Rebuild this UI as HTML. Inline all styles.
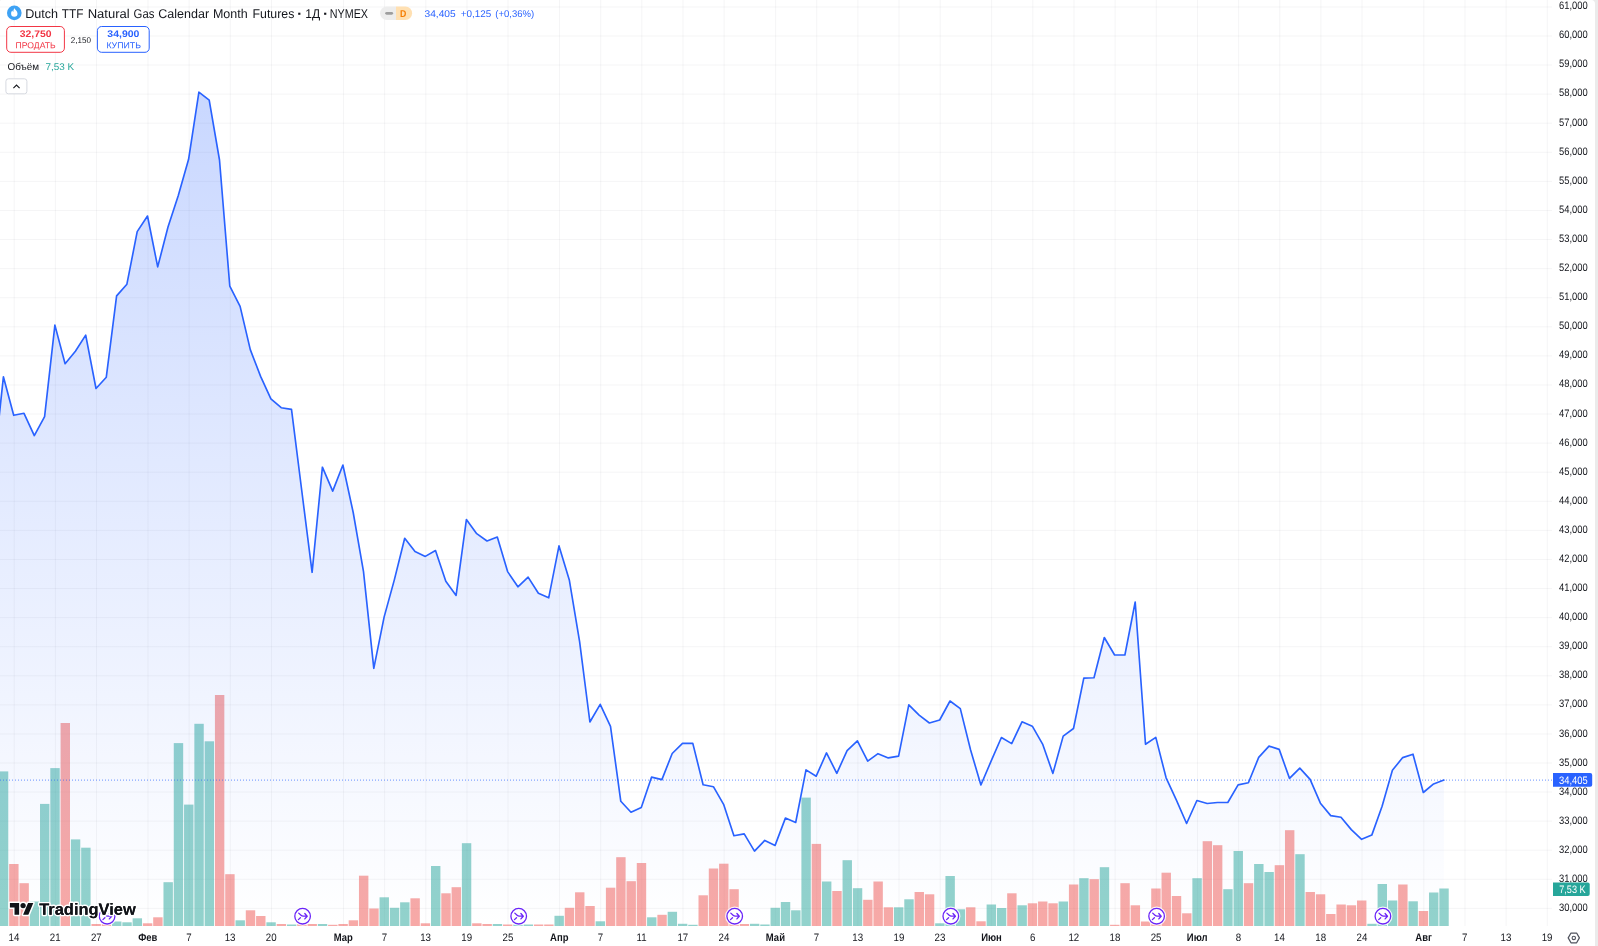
<!DOCTYPE html>
<html lang="ru"><head><meta charset="utf-8"><title>Dutch TTF Natural Gas Calendar Month Futures</title>
<style>html,body{margin:0;padding:0;background:#fff;}body{width:1598px;height:946px;overflow:hidden;font-family:"Liberation Sans",sans-serif;}svg{display:block;position:absolute;left:0;top:0;will-change:transform}text{font-family:"Liberation Sans",sans-serif}</style></head><body>
<svg width="1598" height="946" viewBox="0 0 1598 946">
<defs><linearGradient id="ag" gradientUnits="userSpaceOnUse" x1="0" y1="0" x2="0" y2="926"><stop offset="0" stop-color="#2962ff" stop-opacity="0.28"/><stop offset="1" stop-color="#2962ff" stop-opacity="0"/></linearGradient>
<clipPath id="pane"><rect x="0" y="0" width="1552" height="926"/></clipPath></defs>
<rect x="0" y="0" width="1598" height="946" fill="#ebebeb"/>
<path d="M1.5 0 H1591 a4 4 0 0 1 4 4 V946 H0 V1.5 a1.5 1.5 0 0 1 1.5 -1.5z" fill="#fff"/>
<g fill="#2a2e39" fill-opacity="0.047">
<rect x="0" y="907.90" width="1552" height="1"/>
<rect x="0" y="878.82" width="1552" height="1"/>
<rect x="0" y="849.74" width="1552" height="1"/>
<rect x="0" y="820.66" width="1552" height="1"/>
<rect x="0" y="791.58" width="1552" height="1"/>
<rect x="0" y="762.50" width="1552" height="1"/>
<rect x="0" y="733.42" width="1552" height="1"/>
<rect x="0" y="704.34" width="1552" height="1"/>
<rect x="0" y="675.26" width="1552" height="1"/>
<rect x="0" y="646.18" width="1552" height="1"/>
<rect x="0" y="617.10" width="1552" height="1"/>
<rect x="0" y="588.02" width="1552" height="1"/>
<rect x="0" y="558.94" width="1552" height="1"/>
<rect x="0" y="529.86" width="1552" height="1"/>
<rect x="0" y="500.78" width="1552" height="1"/>
<rect x="0" y="471.70" width="1552" height="1"/>
<rect x="0" y="442.62" width="1552" height="1"/>
<rect x="0" y="413.54" width="1552" height="1"/>
<rect x="0" y="384.46" width="1552" height="1"/>
<rect x="0" y="355.38" width="1552" height="1"/>
<rect x="0" y="326.30" width="1552" height="1"/>
<rect x="0" y="297.22" width="1552" height="1"/>
<rect x="0" y="268.14" width="1552" height="1"/>
<rect x="0" y="239.06" width="1552" height="1"/>
<rect x="0" y="209.98" width="1552" height="1"/>
<rect x="0" y="180.90" width="1552" height="1"/>
<rect x="0" y="151.82" width="1552" height="1"/>
<rect x="0" y="122.74" width="1552" height="1"/>
<rect x="0" y="93.66" width="1552" height="1"/>
<rect x="0" y="64.58" width="1552" height="1"/>
<rect x="0" y="35.50" width="1552" height="1"/>
<rect x="0" y="6.42" width="1552" height="1"/>
<rect x="13.70" y="0" width="1" height="926"/>
<rect x="54.86" y="0" width="1" height="926"/>
<rect x="96.01" y="0" width="1" height="926"/>
<rect x="147.46" y="0" width="1" height="926"/>
<rect x="188.61" y="0" width="1" height="926"/>
<rect x="229.77" y="0" width="1" height="926"/>
<rect x="270.92" y="0" width="1" height="926"/>
<rect x="342.95" y="0" width="1" height="926"/>
<rect x="384.10" y="0" width="1" height="926"/>
<rect x="425.26" y="0" width="1" height="926"/>
<rect x="466.42" y="0" width="1" height="926"/>
<rect x="507.57" y="0" width="1" height="926"/>
<rect x="559.02" y="0" width="1" height="926"/>
<rect x="600.17" y="0" width="1" height="926"/>
<rect x="641.33" y="0" width="1" height="926"/>
<rect x="682.49" y="0" width="1" height="926"/>
<rect x="723.64" y="0" width="1" height="926"/>
<rect x="775.09" y="0" width="1" height="926"/>
<rect x="816.24" y="0" width="1" height="926"/>
<rect x="857.40" y="0" width="1" height="926"/>
<rect x="898.55" y="0" width="1" height="926"/>
<rect x="939.71" y="0" width="1" height="926"/>
<rect x="991.15" y="0" width="1" height="926"/>
<rect x="1032.31" y="0" width="1" height="926"/>
<rect x="1073.47" y="0" width="1" height="926"/>
<rect x="1114.62" y="0" width="1" height="926"/>
<rect x="1155.78" y="0" width="1" height="926"/>
<rect x="1196.93" y="0" width="1" height="926"/>
<rect x="1238.09" y="0" width="1" height="926"/>
<rect x="1279.25" y="0" width="1" height="926"/>
<rect x="1320.40" y="0" width="1" height="926"/>
<rect x="1361.56" y="0" width="1" height="926"/>
<rect x="1423.29" y="0" width="1" height="926"/>
<rect x="1464.45" y="0" width="1" height="926"/>
<rect x="1505.61" y="0" width="1" height="926"/>
<rect x="1546.76" y="0" width="1" height="926"/>
</g>
<g clip-path="url(#pane)">
<rect x="-1.14" y="771.4" width="9.4" height="154.6" fill="#26a69a" fill-opacity="0.5"/>
<rect x="9.15" y="864.0" width="9.4" height="62.0" fill="#ef5350" fill-opacity="0.5"/>
<rect x="19.44" y="883.2" width="9.4" height="42.8" fill="#ef5350" fill-opacity="0.5"/>
<rect x="29.73" y="901.5" width="9.4" height="24.5" fill="#26a69a" fill-opacity="0.5"/>
<rect x="40.02" y="803.9" width="9.4" height="122.1" fill="#26a69a" fill-opacity="0.5"/>
<rect x="50.31" y="768.1" width="9.4" height="157.9" fill="#26a69a" fill-opacity="0.5"/>
<rect x="60.59" y="723.0" width="9.4" height="203.0" fill="#ef5350" fill-opacity="0.5"/>
<rect x="70.88" y="839.4" width="9.4" height="86.6" fill="#26a69a" fill-opacity="0.5"/>
<rect x="81.17" y="847.7" width="9.4" height="78.3" fill="#26a69a" fill-opacity="0.5"/>
<rect x="91.46" y="924.0" width="9.4" height="2.0" fill="#ef5350" fill-opacity="0.5"/>
<rect x="101.75" y="924.0" width="9.4" height="2.0" fill="#ef5350" fill-opacity="0.5"/>
<rect x="112.04" y="921.5" width="9.4" height="4.5" fill="#26a69a" fill-opacity="0.5"/>
<rect x="122.33" y="922.3" width="9.4" height="3.7" fill="#26a69a" fill-opacity="0.5"/>
<rect x="132.62" y="918.3" width="9.4" height="7.7" fill="#26a69a" fill-opacity="0.5"/>
<rect x="142.91" y="923.3" width="9.4" height="2.7" fill="#ef5350" fill-opacity="0.5"/>
<rect x="153.20" y="917.3" width="9.4" height="8.7" fill="#ef5350" fill-opacity="0.5"/>
<rect x="163.48" y="882.2" width="9.4" height="43.8" fill="#26a69a" fill-opacity="0.5"/>
<rect x="173.77" y="743.1" width="9.4" height="182.9" fill="#26a69a" fill-opacity="0.5"/>
<rect x="184.06" y="804.6" width="9.4" height="121.4" fill="#26a69a" fill-opacity="0.5"/>
<rect x="194.35" y="723.8" width="9.4" height="202.2" fill="#26a69a" fill-opacity="0.5"/>
<rect x="204.64" y="741.3" width="9.4" height="184.7" fill="#26a69a" fill-opacity="0.5"/>
<rect x="214.93" y="695.0" width="9.4" height="231.0" fill="#ef5350" fill-opacity="0.5"/>
<rect x="225.22" y="874.2" width="9.4" height="51.8" fill="#ef5350" fill-opacity="0.5"/>
<rect x="235.51" y="920.3" width="9.4" height="5.7" fill="#26a69a" fill-opacity="0.5"/>
<rect x="245.80" y="910.3" width="9.4" height="15.7" fill="#ef5350" fill-opacity="0.5"/>
<rect x="256.09" y="916.0" width="9.4" height="10.0" fill="#ef5350" fill-opacity="0.5"/>
<rect x="266.37" y="922.3" width="9.4" height="3.7" fill="#26a69a" fill-opacity="0.5"/>
<rect x="276.66" y="924.0" width="9.4" height="2.0" fill="#ef5350" fill-opacity="0.5"/>
<rect x="286.95" y="924.5" width="9.4" height="1.5" fill="#26a69a" fill-opacity="0.5"/>
<rect x="297.24" y="924.0" width="9.4" height="2.0" fill="#ef5350" fill-opacity="0.5"/>
<rect x="307.53" y="924.0" width="9.4" height="2.0" fill="#ef5350" fill-opacity="0.5"/>
<rect x="317.82" y="924.0" width="9.4" height="2.0" fill="#26a69a" fill-opacity="0.5"/>
<rect x="328.11" y="924.8" width="9.4" height="1.2" fill="#ef5350" fill-opacity="0.5"/>
<rect x="338.40" y="924.0" width="9.4" height="2.0" fill="#ef5350" fill-opacity="0.5"/>
<rect x="348.69" y="920.3" width="9.4" height="5.7" fill="#ef5350" fill-opacity="0.5"/>
<rect x="358.98" y="875.7" width="9.4" height="50.3" fill="#ef5350" fill-opacity="0.5"/>
<rect x="369.26" y="908.5" width="9.4" height="17.5" fill="#ef5350" fill-opacity="0.5"/>
<rect x="379.55" y="897.3" width="9.4" height="28.7" fill="#26a69a" fill-opacity="0.5"/>
<rect x="389.84" y="907.8" width="9.4" height="18.2" fill="#26a69a" fill-opacity="0.5"/>
<rect x="400.13" y="902.3" width="9.4" height="23.7" fill="#26a69a" fill-opacity="0.5"/>
<rect x="410.42" y="898.3" width="9.4" height="27.7" fill="#ef5350" fill-opacity="0.5"/>
<rect x="420.71" y="923.3" width="9.4" height="2.7" fill="#ef5350" fill-opacity="0.5"/>
<rect x="431.00" y="866.0" width="9.4" height="60.0" fill="#26a69a" fill-opacity="0.5"/>
<rect x="441.29" y="893.3" width="9.4" height="32.7" fill="#ef5350" fill-opacity="0.5"/>
<rect x="451.58" y="887.2" width="9.4" height="38.8" fill="#ef5350" fill-opacity="0.5"/>
<rect x="461.87" y="843.2" width="9.4" height="82.8" fill="#26a69a" fill-opacity="0.5"/>
<rect x="472.15" y="923.3" width="9.4" height="2.7" fill="#ef5350" fill-opacity="0.5"/>
<rect x="482.44" y="924.0" width="9.4" height="2.0" fill="#ef5350" fill-opacity="0.5"/>
<rect x="492.73" y="924.0" width="9.4" height="2.0" fill="#26a69a" fill-opacity="0.5"/>
<rect x="503.02" y="924.5" width="9.4" height="1.5" fill="#ef5350" fill-opacity="0.5"/>
<rect x="513.31" y="924.5" width="9.4" height="1.5" fill="#26a69a" fill-opacity="0.5"/>
<rect x="523.60" y="924.5" width="9.4" height="1.5" fill="#26a69a" fill-opacity="0.5"/>
<rect x="533.89" y="924.5" width="9.4" height="1.5" fill="#ef5350" fill-opacity="0.5"/>
<rect x="544.18" y="924.5" width="9.4" height="1.5" fill="#ef5350" fill-opacity="0.5"/>
<rect x="554.47" y="915.8" width="9.4" height="10.2" fill="#26a69a" fill-opacity="0.5"/>
<rect x="564.76" y="907.8" width="9.4" height="18.2" fill="#ef5350" fill-opacity="0.5"/>
<rect x="575.05" y="892.3" width="9.4" height="33.7" fill="#ef5350" fill-opacity="0.5"/>
<rect x="585.33" y="906.0" width="9.4" height="20.0" fill="#ef5350" fill-opacity="0.5"/>
<rect x="595.62" y="921.3" width="9.4" height="4.7" fill="#26a69a" fill-opacity="0.5"/>
<rect x="605.91" y="887.7" width="9.4" height="38.3" fill="#ef5350" fill-opacity="0.5"/>
<rect x="616.20" y="857.2" width="9.4" height="68.8" fill="#ef5350" fill-opacity="0.5"/>
<rect x="626.49" y="881.2" width="9.4" height="44.8" fill="#ef5350" fill-opacity="0.5"/>
<rect x="636.78" y="863.0" width="9.4" height="63.0" fill="#ef5350" fill-opacity="0.5"/>
<rect x="647.07" y="917.3" width="9.4" height="8.7" fill="#26a69a" fill-opacity="0.5"/>
<rect x="657.36" y="914.8" width="9.4" height="11.2" fill="#ef5350" fill-opacity="0.5"/>
<rect x="667.65" y="911.8" width="9.4" height="14.2" fill="#26a69a" fill-opacity="0.5"/>
<rect x="677.94" y="923.8" width="9.4" height="2.2" fill="#26a69a" fill-opacity="0.5"/>
<rect x="688.22" y="924.8" width="9.4" height="1.2" fill="#26a69a" fill-opacity="0.5"/>
<rect x="698.51" y="895.3" width="9.4" height="30.7" fill="#ef5350" fill-opacity="0.5"/>
<rect x="708.80" y="868.5" width="9.4" height="57.5" fill="#ef5350" fill-opacity="0.5"/>
<rect x="719.09" y="863.7" width="9.4" height="62.3" fill="#ef5350" fill-opacity="0.5"/>
<rect x="729.38" y="889.2" width="9.4" height="36.8" fill="#ef5350" fill-opacity="0.5"/>
<rect x="739.67" y="924.0" width="9.4" height="2.0" fill="#ef5350" fill-opacity="0.5"/>
<rect x="749.96" y="923.8" width="9.4" height="2.2" fill="#26a69a" fill-opacity="0.5"/>
<rect x="760.25" y="924.5" width="9.4" height="1.5" fill="#26a69a" fill-opacity="0.5"/>
<rect x="770.54" y="907.8" width="9.4" height="18.2" fill="#26a69a" fill-opacity="0.5"/>
<rect x="780.83" y="902.0" width="9.4" height="24.0" fill="#26a69a" fill-opacity="0.5"/>
<rect x="791.11" y="910.3" width="9.4" height="15.7" fill="#26a69a" fill-opacity="0.5"/>
<rect x="801.40" y="797.6" width="9.4" height="128.4" fill="#26a69a" fill-opacity="0.5"/>
<rect x="811.69" y="843.9" width="9.4" height="82.1" fill="#ef5350" fill-opacity="0.5"/>
<rect x="821.98" y="881.5" width="9.4" height="44.5" fill="#26a69a" fill-opacity="0.5"/>
<rect x="832.27" y="891.0" width="9.4" height="35.0" fill="#ef5350" fill-opacity="0.5"/>
<rect x="842.56" y="860.2" width="9.4" height="65.8" fill="#26a69a" fill-opacity="0.5"/>
<rect x="852.85" y="888.2" width="9.4" height="37.8" fill="#26a69a" fill-opacity="0.5"/>
<rect x="863.14" y="899.8" width="9.4" height="26.2" fill="#ef5350" fill-opacity="0.5"/>
<rect x="873.43" y="881.5" width="9.4" height="44.5" fill="#ef5350" fill-opacity="0.5"/>
<rect x="883.72" y="907.3" width="9.4" height="18.7" fill="#ef5350" fill-opacity="0.5"/>
<rect x="894.00" y="907.3" width="9.4" height="18.7" fill="#26a69a" fill-opacity="0.5"/>
<rect x="904.29" y="899.3" width="9.4" height="26.7" fill="#26a69a" fill-opacity="0.5"/>
<rect x="914.58" y="892.0" width="9.4" height="34.0" fill="#ef5350" fill-opacity="0.5"/>
<rect x="924.87" y="894.3" width="9.4" height="31.7" fill="#ef5350" fill-opacity="0.5"/>
<rect x="935.16" y="923.3" width="9.4" height="2.7" fill="#26a69a" fill-opacity="0.5"/>
<rect x="945.45" y="876.0" width="9.4" height="50.0" fill="#26a69a" fill-opacity="0.5"/>
<rect x="955.74" y="909.3" width="9.4" height="16.7" fill="#26a69a" fill-opacity="0.5"/>
<rect x="966.03" y="907.3" width="9.4" height="18.7" fill="#ef5350" fill-opacity="0.5"/>
<rect x="976.32" y="921.3" width="9.4" height="4.7" fill="#ef5350" fill-opacity="0.5"/>
<rect x="986.61" y="904.5" width="9.4" height="21.5" fill="#26a69a" fill-opacity="0.5"/>
<rect x="996.89" y="908.0" width="9.4" height="18.0" fill="#26a69a" fill-opacity="0.5"/>
<rect x="1007.18" y="893.3" width="9.4" height="32.7" fill="#ef5350" fill-opacity="0.5"/>
<rect x="1017.47" y="905.3" width="9.4" height="20.7" fill="#26a69a" fill-opacity="0.5"/>
<rect x="1027.76" y="903.3" width="9.4" height="22.7" fill="#ef5350" fill-opacity="0.5"/>
<rect x="1038.05" y="901.5" width="9.4" height="24.5" fill="#ef5350" fill-opacity="0.5"/>
<rect x="1048.34" y="903.3" width="9.4" height="22.7" fill="#ef5350" fill-opacity="0.5"/>
<rect x="1058.63" y="901.5" width="9.4" height="24.5" fill="#26a69a" fill-opacity="0.5"/>
<rect x="1068.92" y="884.5" width="9.4" height="41.5" fill="#ef5350" fill-opacity="0.5"/>
<rect x="1079.21" y="878.2" width="9.4" height="47.8" fill="#26a69a" fill-opacity="0.5"/>
<rect x="1089.50" y="879.2" width="9.4" height="46.8" fill="#ef5350" fill-opacity="0.5"/>
<rect x="1099.78" y="867.2" width="9.4" height="58.8" fill="#26a69a" fill-opacity="0.5"/>
<rect x="1110.07" y="924.8" width="9.4" height="1.2" fill="#ef5350" fill-opacity="0.5"/>
<rect x="1120.36" y="883.2" width="9.4" height="42.8" fill="#ef5350" fill-opacity="0.5"/>
<rect x="1130.65" y="905.3" width="9.4" height="20.7" fill="#ef5350" fill-opacity="0.5"/>
<rect x="1140.94" y="921.5" width="9.4" height="4.5" fill="#ef5350" fill-opacity="0.5"/>
<rect x="1151.23" y="888.5" width="9.4" height="37.5" fill="#ef5350" fill-opacity="0.5"/>
<rect x="1161.52" y="872.7" width="9.4" height="53.3" fill="#ef5350" fill-opacity="0.5"/>
<rect x="1171.81" y="896.0" width="9.4" height="30.0" fill="#ef5350" fill-opacity="0.5"/>
<rect x="1182.10" y="913.3" width="9.4" height="12.7" fill="#ef5350" fill-opacity="0.5"/>
<rect x="1192.38" y="878.2" width="9.4" height="47.8" fill="#26a69a" fill-opacity="0.5"/>
<rect x="1202.67" y="841.2" width="9.4" height="84.8" fill="#ef5350" fill-opacity="0.5"/>
<rect x="1212.96" y="845.2" width="9.4" height="80.8" fill="#ef5350" fill-opacity="0.5"/>
<rect x="1223.25" y="889.2" width="9.4" height="36.8" fill="#26a69a" fill-opacity="0.5"/>
<rect x="1233.54" y="851.0" width="9.4" height="75.0" fill="#26a69a" fill-opacity="0.5"/>
<rect x="1243.83" y="883.2" width="9.4" height="42.8" fill="#ef5350" fill-opacity="0.5"/>
<rect x="1254.12" y="864.0" width="9.4" height="62.0" fill="#26a69a" fill-opacity="0.5"/>
<rect x="1264.41" y="872.0" width="9.4" height="54.0" fill="#26a69a" fill-opacity="0.5"/>
<rect x="1274.70" y="865.2" width="9.4" height="60.8" fill="#ef5350" fill-opacity="0.5"/>
<rect x="1284.99" y="830.2" width="9.4" height="95.8" fill="#ef5350" fill-opacity="0.5"/>
<rect x="1295.28" y="854.2" width="9.4" height="71.8" fill="#26a69a" fill-opacity="0.5"/>
<rect x="1305.56" y="892.0" width="9.4" height="34.0" fill="#ef5350" fill-opacity="0.5"/>
<rect x="1315.85" y="894.3" width="9.4" height="31.7" fill="#ef5350" fill-opacity="0.5"/>
<rect x="1326.14" y="914.0" width="9.4" height="12.0" fill="#ef5350" fill-opacity="0.5"/>
<rect x="1336.43" y="904.5" width="9.4" height="21.5" fill="#ef5350" fill-opacity="0.5"/>
<rect x="1346.72" y="905.3" width="9.4" height="20.7" fill="#ef5350" fill-opacity="0.5"/>
<rect x="1357.01" y="900.5" width="9.4" height="25.5" fill="#ef5350" fill-opacity="0.5"/>
<rect x="1367.30" y="923.8" width="9.4" height="2.2" fill="#26a69a" fill-opacity="0.5"/>
<rect x="1377.59" y="884.0" width="9.4" height="42.0" fill="#26a69a" fill-opacity="0.5"/>
<rect x="1387.88" y="900.5" width="9.4" height="25.5" fill="#26a69a" fill-opacity="0.5"/>
<rect x="1398.16" y="884.5" width="9.4" height="41.5" fill="#ef5350" fill-opacity="0.5"/>
<rect x="1408.45" y="901.3" width="9.4" height="24.7" fill="#26a69a" fill-opacity="0.5"/>
<rect x="1418.74" y="911.0" width="9.4" height="15.0" fill="#ef5350" fill-opacity="0.5"/>
<rect x="1429.03" y="892.5" width="9.4" height="33.5" fill="#26a69a" fill-opacity="0.5"/>
<rect x="1439.32" y="888.5" width="9.4" height="37.5" fill="#26a69a" fill-opacity="0.5"/>
<polygon points="-7.3,477.0 3.4,376.8 13.7,415.3 24.0,413.3 34.3,435.6 44.6,416.7 54.9,325.1 65.1,363.7 75.4,351.3 85.7,335.1 96.0,388.5 106.3,377.2 116.6,295.9 126.9,284.2 137.2,231.6 147.5,216.0 157.7,266.9 168.0,227.0 178.3,195.5 188.6,159.3 198.9,92.2 209.2,100.1 219.5,160.0 229.8,286.2 240.1,306.4 250.3,349.6 260.6,376.4 270.9,398.8 281.2,407.7 291.5,409.4 301.8,491.0 312.1,572.3 322.4,467.2 332.7,491.1 342.9,465.0 353.2,512.5 363.5,571.6 373.8,668.3 384.1,617.1 394.4,579.6 404.7,538.3 415.0,551.6 425.3,556.4 435.5,550.5 445.8,581.2 456.1,595.4 466.4,519.6 476.7,533.7 487.0,541.0 497.3,537.0 507.6,571.6 517.9,586.8 528.1,577.1 538.4,593.2 548.7,597.8 559.0,545.9 569.3,579.9 579.6,641.7 589.9,722.0 600.2,704.3 610.5,726.4 620.8,801.3 631.0,812.2 641.3,807.4 651.6,777.1 661.9,779.6 672.2,753.5 682.5,743.4 692.8,743.4 703.1,784.7 713.4,786.7 723.6,804.3 733.9,835.7 744.2,833.9 754.5,851.1 764.8,840.4 775.1,845.4 785.4,818.1 795.7,822.5 806.0,769.9 816.2,776.2 826.5,752.9 836.8,773.3 847.1,750.6 857.4,740.9 867.7,761.2 878.0,753.7 888.3,757.9 898.6,756.1 908.8,704.9 919.1,715.2 929.4,723.0 939.7,720.0 950.0,701.0 960.3,708.6 970.6,750.0 980.9,785.0 991.2,760.9 1001.4,737.5 1011.7,743.6 1022.0,721.8 1032.3,726.2 1042.6,744.1 1052.9,773.4 1063.2,736.1 1073.5,728.5 1083.8,678.1 1094.0,677.8 1104.3,637.5 1114.6,655.0 1124.9,655.0 1135.2,602.0 1145.5,744.3 1155.8,737.4 1166.1,777.8 1176.4,800.2 1186.6,823.5 1196.9,800.5 1207.2,803.5 1217.5,802.5 1227.8,802.5 1238.1,784.9 1248.4,782.8 1258.7,757.4 1269.0,746.1 1279.2,749.4 1289.5,778.4 1299.8,768.1 1310.1,779.4 1320.4,803.2 1330.7,815.6 1341.0,817.2 1351.3,829.6 1361.6,839.3 1371.8,835.1 1382.1,806.2 1392.4,770.2 1402.7,757.6 1413.0,754.2 1423.3,792.5 1433.6,783.9 1443.9,780.1 1443.9,926 -8,926" fill="url(#ag)"/>
<polyline points="-7.3,477.0 3.4,376.8 13.7,415.3 24.0,413.3 34.3,435.6 44.6,416.7 54.9,325.1 65.1,363.7 75.4,351.3 85.7,335.1 96.0,388.5 106.3,377.2 116.6,295.9 126.9,284.2 137.2,231.6 147.5,216.0 157.7,266.9 168.0,227.0 178.3,195.5 188.6,159.3 198.9,92.2 209.2,100.1 219.5,160.0 229.8,286.2 240.1,306.4 250.3,349.6 260.6,376.4 270.9,398.8 281.2,407.7 291.5,409.4 301.8,491.0 312.1,572.3 322.4,467.2 332.7,491.1 342.9,465.0 353.2,512.5 363.5,571.6 373.8,668.3 384.1,617.1 394.4,579.6 404.7,538.3 415.0,551.6 425.3,556.4 435.5,550.5 445.8,581.2 456.1,595.4 466.4,519.6 476.7,533.7 487.0,541.0 497.3,537.0 507.6,571.6 517.9,586.8 528.1,577.1 538.4,593.2 548.7,597.8 559.0,545.9 569.3,579.9 579.6,641.7 589.9,722.0 600.2,704.3 610.5,726.4 620.8,801.3 631.0,812.2 641.3,807.4 651.6,777.1 661.9,779.6 672.2,753.5 682.5,743.4 692.8,743.4 703.1,784.7 713.4,786.7 723.6,804.3 733.9,835.7 744.2,833.9 754.5,851.1 764.8,840.4 775.1,845.4 785.4,818.1 795.7,822.5 806.0,769.9 816.2,776.2 826.5,752.9 836.8,773.3 847.1,750.6 857.4,740.9 867.7,761.2 878.0,753.7 888.3,757.9 898.6,756.1 908.8,704.9 919.1,715.2 929.4,723.0 939.7,720.0 950.0,701.0 960.3,708.6 970.6,750.0 980.9,785.0 991.2,760.9 1001.4,737.5 1011.7,743.6 1022.0,721.8 1032.3,726.2 1042.6,744.1 1052.9,773.4 1063.2,736.1 1073.5,728.5 1083.8,678.1 1094.0,677.8 1104.3,637.5 1114.6,655.0 1124.9,655.0 1135.2,602.0 1145.5,744.3 1155.8,737.4 1166.1,777.8 1176.4,800.2 1186.6,823.5 1196.9,800.5 1207.2,803.5 1217.5,802.5 1227.8,802.5 1238.1,784.9 1248.4,782.8 1258.7,757.4 1269.0,746.1 1279.2,749.4 1289.5,778.4 1299.8,768.1 1310.1,779.4 1320.4,803.2 1330.7,815.6 1341.0,817.2 1351.3,829.6 1361.6,839.3 1371.8,835.1 1382.1,806.2 1392.4,770.2 1402.7,757.6 1413.0,754.2 1423.3,792.5 1433.6,783.9 1443.9,780.1" fill="none" stroke="#2962ff" stroke-width="1.65" stroke-linejoin="round" stroke-linecap="round"/>
</g>
<line x1="0" y1="780.1" x2="1552" y2="780.1" stroke="#2962ff" stroke-width="1" stroke-dasharray="1 2" stroke-opacity="0.7"/>
<g transform="translate(107.1,916.2)"><circle r="9.6" fill="#fff" fill-opacity="0.85"/><circle r="7.8" fill="#fff" stroke="#6a24f8" stroke-width="1.3"/><path d="M-3.9 -3.1 L-1.6 -0.9 Q-0.7 0 0.6 0 L4.2 0 M2.2 -2.7 L4.6 0 L2.2 2.7" fill="none" stroke="#6a24f8" stroke-width="1.3" stroke-linecap="round" stroke-linejoin="round"/><path d="M-4.2 3.4 L-2.2 1.5" fill="none" stroke="#6a24f8" stroke-width="1.3" stroke-linecap="round"/></g>
<g transform="translate(302.6,916.2)"><circle r="9.6" fill="#fff" fill-opacity="0.85"/><circle r="7.8" fill="#fff" stroke="#6a24f8" stroke-width="1.3"/><path d="M-3.9 -3.1 L-1.6 -0.9 Q-0.7 0 0.6 0 L4.2 0 M2.2 -2.7 L4.6 0 L2.2 2.7" fill="none" stroke="#6a24f8" stroke-width="1.3" stroke-linecap="round" stroke-linejoin="round"/><path d="M-4.2 3.4 L-2.2 1.5" fill="none" stroke="#6a24f8" stroke-width="1.3" stroke-linecap="round"/></g>
<g transform="translate(518.7,916.2)"><circle r="9.6" fill="#fff" fill-opacity="0.85"/><circle r="7.8" fill="#fff" stroke="#6a24f8" stroke-width="1.3"/><path d="M-3.9 -3.1 L-1.6 -0.9 Q-0.7 0 0.6 0 L4.2 0 M2.2 -2.7 L4.6 0 L2.2 2.7" fill="none" stroke="#6a24f8" stroke-width="1.3" stroke-linecap="round" stroke-linejoin="round"/><path d="M-4.2 3.4 L-2.2 1.5" fill="none" stroke="#6a24f8" stroke-width="1.3" stroke-linecap="round"/></g>
<g transform="translate(734.7,916.2)"><circle r="9.6" fill="#fff" fill-opacity="0.85"/><circle r="7.8" fill="#fff" stroke="#6a24f8" stroke-width="1.3"/><path d="M-3.9 -3.1 L-1.6 -0.9 Q-0.7 0 0.6 0 L4.2 0 M2.2 -2.7 L4.6 0 L2.2 2.7" fill="none" stroke="#6a24f8" stroke-width="1.3" stroke-linecap="round" stroke-linejoin="round"/><path d="M-4.2 3.4 L-2.2 1.5" fill="none" stroke="#6a24f8" stroke-width="1.3" stroke-linecap="round"/></g>
<g transform="translate(950.8,916.2)"><circle r="9.6" fill="#fff" fill-opacity="0.85"/><circle r="7.8" fill="#fff" stroke="#6a24f8" stroke-width="1.3"/><path d="M-3.9 -3.1 L-1.6 -0.9 Q-0.7 0 0.6 0 L4.2 0 M2.2 -2.7 L4.6 0 L2.2 2.7" fill="none" stroke="#6a24f8" stroke-width="1.3" stroke-linecap="round" stroke-linejoin="round"/><path d="M-4.2 3.4 L-2.2 1.5" fill="none" stroke="#6a24f8" stroke-width="1.3" stroke-linecap="round"/></g>
<g transform="translate(1156.6,916.2)"><circle r="9.6" fill="#fff" fill-opacity="0.85"/><circle r="7.8" fill="#fff" stroke="#6a24f8" stroke-width="1.3"/><path d="M-3.9 -3.1 L-1.6 -0.9 Q-0.7 0 0.6 0 L4.2 0 M2.2 -2.7 L4.6 0 L2.2 2.7" fill="none" stroke="#6a24f8" stroke-width="1.3" stroke-linecap="round" stroke-linejoin="round"/><path d="M-4.2 3.4 L-2.2 1.5" fill="none" stroke="#6a24f8" stroke-width="1.3" stroke-linecap="round"/></g>
<g transform="translate(1382.9,916.2)"><circle r="9.6" fill="#fff" fill-opacity="0.85"/><circle r="7.8" fill="#fff" stroke="#6a24f8" stroke-width="1.3"/><path d="M-3.9 -3.1 L-1.6 -0.9 Q-0.7 0 0.6 0 L4.2 0 M2.2 -2.7 L4.6 0 L2.2 2.7" fill="none" stroke="#6a24f8" stroke-width="1.3" stroke-linecap="round" stroke-linejoin="round"/><path d="M-4.2 3.4 L-2.2 1.5" fill="none" stroke="#6a24f8" stroke-width="1.3" stroke-linecap="round"/></g>
<g transform="translate(9.9,900.35) scale(0.659)" stroke="#fff" stroke-width="4.5" stroke-linejoin="round" fill="#fff"><path d="M14 22H7V11H0V4h14v18zM28 22h-8l7.5-18h8L28 22z"/><circle cx="20" cy="8" r="4"/></g>
<g transform="translate(9.9,900.35) scale(0.659)" fill="#111318"><path d="M14 22H7V11H0V4h14v18zM28 22h-8l7.5-18h8L28 22z"/><circle cx="20" cy="8" r="4"/></g>
<text transform="translate(39.20,914.70) rotate(0.03)" font-size="16.3" fill="#111318" font-weight="700" textLength="96.5" lengthAdjust="spacingAndGlyphs" stroke="#fff" stroke-width="3" stroke-linejoin="round" paint-order="stroke">TradingView</text>
<text transform="translate(39.20,914.70) rotate(0.03)" font-size="16.3" fill="#111318" font-weight="700" textLength="96.5" lengthAdjust="spacingAndGlyphs">TradingView</text>
<text transform="translate(1587.70,911.15) rotate(0.03)" font-size="10.8" fill="#14161c" text-anchor="end" textLength="28.7" lengthAdjust="spacingAndGlyphs">30,000</text>
<text transform="translate(1587.70,882.05) rotate(0.03)" font-size="10.8" fill="#14161c" text-anchor="end" textLength="28.7" lengthAdjust="spacingAndGlyphs">31,000</text>
<text transform="translate(1587.70,852.96) rotate(0.03)" font-size="10.8" fill="#14161c" text-anchor="end" textLength="28.7" lengthAdjust="spacingAndGlyphs">32,000</text>
<text transform="translate(1587.70,823.87) rotate(0.03)" font-size="10.8" fill="#14161c" text-anchor="end" textLength="28.7" lengthAdjust="spacingAndGlyphs">33,000</text>
<text transform="translate(1587.70,794.77) rotate(0.03)" font-size="10.8" fill="#14161c" text-anchor="end" textLength="28.7" lengthAdjust="spacingAndGlyphs">34,000</text>
<text transform="translate(1587.70,765.67) rotate(0.03)" font-size="10.8" fill="#14161c" text-anchor="end" textLength="28.7" lengthAdjust="spacingAndGlyphs">35,000</text>
<text transform="translate(1587.70,736.58) rotate(0.03)" font-size="10.8" fill="#14161c" text-anchor="end" textLength="28.7" lengthAdjust="spacingAndGlyphs">36,000</text>
<text transform="translate(1587.70,707.49) rotate(0.03)" font-size="10.8" fill="#14161c" text-anchor="end" textLength="28.7" lengthAdjust="spacingAndGlyphs">37,000</text>
<text transform="translate(1587.70,678.39) rotate(0.03)" font-size="10.8" fill="#14161c" text-anchor="end" textLength="28.7" lengthAdjust="spacingAndGlyphs">38,000</text>
<text transform="translate(1587.70,649.29) rotate(0.03)" font-size="10.8" fill="#14161c" text-anchor="end" textLength="28.7" lengthAdjust="spacingAndGlyphs">39,000</text>
<text transform="translate(1587.70,620.20) rotate(0.03)" font-size="10.8" fill="#14161c" text-anchor="end" textLength="28.7" lengthAdjust="spacingAndGlyphs">40,000</text>
<text transform="translate(1587.70,591.11) rotate(0.03)" font-size="10.8" fill="#14161c" text-anchor="end" textLength="28.7" lengthAdjust="spacingAndGlyphs">41,000</text>
<text transform="translate(1587.70,562.01) rotate(0.03)" font-size="10.8" fill="#14161c" text-anchor="end" textLength="28.7" lengthAdjust="spacingAndGlyphs">42,000</text>
<text transform="translate(1587.70,532.91) rotate(0.03)" font-size="10.8" fill="#14161c" text-anchor="end" textLength="28.7" lengthAdjust="spacingAndGlyphs">43,000</text>
<text transform="translate(1587.70,503.82) rotate(0.03)" font-size="10.8" fill="#14161c" text-anchor="end" textLength="28.7" lengthAdjust="spacingAndGlyphs">44,000</text>
<text transform="translate(1587.70,474.73) rotate(0.03)" font-size="10.8" fill="#14161c" text-anchor="end" textLength="28.7" lengthAdjust="spacingAndGlyphs">45,000</text>
<text transform="translate(1587.70,445.63) rotate(0.03)" font-size="10.8" fill="#14161c" text-anchor="end" textLength="28.7" lengthAdjust="spacingAndGlyphs">46,000</text>
<text transform="translate(1587.70,416.53) rotate(0.03)" font-size="10.8" fill="#14161c" text-anchor="end" textLength="28.7" lengthAdjust="spacingAndGlyphs">47,000</text>
<text transform="translate(1587.70,387.44) rotate(0.03)" font-size="10.8" fill="#14161c" text-anchor="end" textLength="28.7" lengthAdjust="spacingAndGlyphs">48,000</text>
<text transform="translate(1587.70,358.35) rotate(0.03)" font-size="10.8" fill="#14161c" text-anchor="end" textLength="28.7" lengthAdjust="spacingAndGlyphs">49,000</text>
<text transform="translate(1587.70,329.25) rotate(0.03)" font-size="10.8" fill="#14161c" text-anchor="end" textLength="28.7" lengthAdjust="spacingAndGlyphs">50,000</text>
<text transform="translate(1587.70,300.15) rotate(0.03)" font-size="10.8" fill="#14161c" text-anchor="end" textLength="28.7" lengthAdjust="spacingAndGlyphs">51,000</text>
<text transform="translate(1587.70,271.06) rotate(0.03)" font-size="10.8" fill="#14161c" text-anchor="end" textLength="28.7" lengthAdjust="spacingAndGlyphs">52,000</text>
<text transform="translate(1587.70,241.97) rotate(0.03)" font-size="10.8" fill="#14161c" text-anchor="end" textLength="28.7" lengthAdjust="spacingAndGlyphs">53,000</text>
<text transform="translate(1587.70,212.87) rotate(0.03)" font-size="10.8" fill="#14161c" text-anchor="end" textLength="28.7" lengthAdjust="spacingAndGlyphs">54,000</text>
<text transform="translate(1587.70,183.77) rotate(0.03)" font-size="10.8" fill="#14161c" text-anchor="end" textLength="28.7" lengthAdjust="spacingAndGlyphs">55,000</text>
<text transform="translate(1587.70,154.68) rotate(0.03)" font-size="10.8" fill="#14161c" text-anchor="end" textLength="28.7" lengthAdjust="spacingAndGlyphs">56,000</text>
<text transform="translate(1587.70,125.59) rotate(0.03)" font-size="10.8" fill="#14161c" text-anchor="end" textLength="28.7" lengthAdjust="spacingAndGlyphs">57,000</text>
<text transform="translate(1587.70,96.49) rotate(0.03)" font-size="10.8" fill="#14161c" text-anchor="end" textLength="28.7" lengthAdjust="spacingAndGlyphs">58,000</text>
<text transform="translate(1587.70,67.39) rotate(0.03)" font-size="10.8" fill="#14161c" text-anchor="end" textLength="28.7" lengthAdjust="spacingAndGlyphs">59,000</text>
<text transform="translate(1587.70,38.30) rotate(0.03)" font-size="10.8" fill="#14161c" text-anchor="end" textLength="28.7" lengthAdjust="spacingAndGlyphs">60,000</text>
<text transform="translate(1587.70,9.21) rotate(0.03)" font-size="10.8" fill="#14161c" text-anchor="end" textLength="28.7" lengthAdjust="spacingAndGlyphs">61,000</text>
<path d="M1553 773 H1590.2 a2 2 0 0 1 2 2 V784.8 a2 2 0 0 1 -2 2 H1553z" fill="#2962ff"/>
<text transform="translate(1587.70,783.75) rotate(0.03)" font-size="10.8" fill="#fff" text-anchor="end" textLength="28.7" lengthAdjust="spacingAndGlyphs">34,405</text>
<path d="M1553 882.6 H1587.7 a2 2 0 0 1 2 2 V893.9 a2 2 0 0 1 -2 2 H1553z" fill="#26a69a"/>
<text transform="translate(1585.60,892.80) rotate(0.03)" font-size="10.8" fill="#fff" text-anchor="end" textLength="26.4" lengthAdjust="spacingAndGlyphs">7,53 K</text>
<text transform="translate(14.0,940.9) rotate(0.03) scale(0.9,1)" font-size="10.8" fill="#14161c" text-anchor="middle">14</text>
<text transform="translate(55.2,940.9) rotate(0.03) scale(0.9,1)" font-size="10.8" fill="#14161c" text-anchor="middle">21</text>
<text transform="translate(96.3,940.9) rotate(0.03) scale(0.9,1)" font-size="10.8" fill="#14161c" text-anchor="middle">27</text>
<text transform="translate(147.8,940.9) rotate(0.03) scale(0.88,1)" font-size="10.8" fill="#14161c" text-anchor="middle" font-weight="700">Фев</text>
<text transform="translate(188.9,940.9) rotate(0.03) scale(0.9,1)" font-size="10.8" fill="#14161c" text-anchor="middle">7</text>
<text transform="translate(230.1,940.9) rotate(0.03) scale(0.9,1)" font-size="10.8" fill="#14161c" text-anchor="middle">13</text>
<text transform="translate(271.2,940.9) rotate(0.03) scale(0.9,1)" font-size="10.8" fill="#14161c" text-anchor="middle">20</text>
<text transform="translate(343.2,940.9) rotate(0.03) scale(0.88,1)" font-size="10.8" fill="#14161c" text-anchor="middle" font-weight="700">Мар</text>
<text transform="translate(384.4,940.9) rotate(0.03) scale(0.9,1)" font-size="10.8" fill="#14161c" text-anchor="middle">7</text>
<text transform="translate(425.6,940.9) rotate(0.03) scale(0.9,1)" font-size="10.8" fill="#14161c" text-anchor="middle">13</text>
<text transform="translate(466.7,940.9) rotate(0.03) scale(0.9,1)" font-size="10.8" fill="#14161c" text-anchor="middle">19</text>
<text transform="translate(507.9,940.9) rotate(0.03) scale(0.9,1)" font-size="10.8" fill="#14161c" text-anchor="middle">25</text>
<text transform="translate(559.3,940.9) rotate(0.03) scale(0.88,1)" font-size="10.8" fill="#14161c" text-anchor="middle" font-weight="700">Апр</text>
<text transform="translate(600.5,940.9) rotate(0.03) scale(0.9,1)" font-size="10.8" fill="#14161c" text-anchor="middle">7</text>
<text transform="translate(641.6,940.9) rotate(0.03) scale(0.9,1)" font-size="10.8" fill="#14161c" text-anchor="middle">11</text>
<text transform="translate(682.8,940.9) rotate(0.03) scale(0.9,1)" font-size="10.8" fill="#14161c" text-anchor="middle">17</text>
<text transform="translate(723.9,940.9) rotate(0.03) scale(0.9,1)" font-size="10.8" fill="#14161c" text-anchor="middle">24</text>
<text transform="translate(775.4,940.9) rotate(0.03) scale(0.88,1)" font-size="10.8" fill="#14161c" text-anchor="middle" font-weight="700">Май</text>
<text transform="translate(816.5,940.9) rotate(0.03) scale(0.9,1)" font-size="10.8" fill="#14161c" text-anchor="middle">7</text>
<text transform="translate(857.7,940.9) rotate(0.03) scale(0.9,1)" font-size="10.8" fill="#14161c" text-anchor="middle">13</text>
<text transform="translate(898.9,940.9) rotate(0.03) scale(0.9,1)" font-size="10.8" fill="#14161c" text-anchor="middle">19</text>
<text transform="translate(940.0,940.9) rotate(0.03) scale(0.9,1)" font-size="10.8" fill="#14161c" text-anchor="middle">23</text>
<text transform="translate(991.5,940.9) rotate(0.03) scale(0.88,1)" font-size="10.8" fill="#14161c" text-anchor="middle" font-weight="700">Июн</text>
<text transform="translate(1032.6,940.9) rotate(0.03) scale(0.9,1)" font-size="10.8" fill="#14161c" text-anchor="middle">6</text>
<text transform="translate(1073.8,940.9) rotate(0.03) scale(0.9,1)" font-size="10.8" fill="#14161c" text-anchor="middle">12</text>
<text transform="translate(1114.9,940.9) rotate(0.03) scale(0.9,1)" font-size="10.8" fill="#14161c" text-anchor="middle">18</text>
<text transform="translate(1156.1,940.9) rotate(0.03) scale(0.9,1)" font-size="10.8" fill="#14161c" text-anchor="middle">25</text>
<text transform="translate(1197.2,940.9) rotate(0.03) scale(0.88,1)" font-size="10.8" fill="#14161c" text-anchor="middle" font-weight="700">Июл</text>
<text transform="translate(1238.4,940.9) rotate(0.03) scale(0.9,1)" font-size="10.8" fill="#14161c" text-anchor="middle">8</text>
<text transform="translate(1279.5,940.9) rotate(0.03) scale(0.9,1)" font-size="10.8" fill="#14161c" text-anchor="middle">14</text>
<text transform="translate(1320.7,940.9) rotate(0.03) scale(0.9,1)" font-size="10.8" fill="#14161c" text-anchor="middle">18</text>
<text transform="translate(1361.9,940.9) rotate(0.03) scale(0.9,1)" font-size="10.8" fill="#14161c" text-anchor="middle">24</text>
<text transform="translate(1423.6,940.9) rotate(0.03) scale(0.88,1)" font-size="10.8" fill="#14161c" text-anchor="middle" font-weight="700">Авг</text>
<text transform="translate(1464.7,940.9) rotate(0.03) scale(0.9,1)" font-size="10.8" fill="#14161c" text-anchor="middle">7</text>
<text transform="translate(1505.9,940.9) rotate(0.03) scale(0.9,1)" font-size="10.8" fill="#14161c" text-anchor="middle">13</text>
<text transform="translate(1547.1,940.9) rotate(0.03) scale(0.9,1)" font-size="10.8" fill="#14161c" text-anchor="middle">19</text>
<polygon points="1579.40,937.90 1576.60,942.75 1571.00,942.75 1568.20,937.90 1571.00,933.05 1576.60,933.05" fill="none" stroke="#50535e" stroke-width="1.25" stroke-linejoin="round"/><circle cx="1573.8" cy="937.9" r="1.7" fill="none" stroke="#50535e" stroke-width="1.1"/>
<circle cx="14.3" cy="12.9" r="7.3" fill="#3ea2f4"/>
<path d="M14.6 8.2c0.4 1.7 2.9 2.6 2.9 5.3a3.2 3.2 0 0 1-6.4 0c0-1.3 0.6-2.2 1.3-2.9c0.1 0.8 0.5 1.3 1 1.5c-0.2-1.5 0.3-2.9 1.2-3.9z" fill="#fff"/>
<text transform="translate(25.20,17.90) rotate(0.03)" font-size="12.7" fill="#14161c" textLength="32.9" lengthAdjust="spacingAndGlyphs">Dutch</text>
<text transform="translate(61.80,17.90) rotate(0.03)" font-size="12.7" fill="#14161c" textLength="21.7" lengthAdjust="spacingAndGlyphs">TTF</text>
<text transform="translate(87.70,17.90) rotate(0.03)" font-size="12.7" fill="#14161c" textLength="42.0" lengthAdjust="spacingAndGlyphs">Natural</text>
<text transform="translate(133.60,17.90) rotate(0.03)" font-size="12.7" fill="#14161c" textLength="20.8" lengthAdjust="spacingAndGlyphs">Gas</text>
<text transform="translate(158.20,17.90) rotate(0.03)" font-size="12.7" fill="#14161c" textLength="50.9" lengthAdjust="spacingAndGlyphs">Calendar</text>
<text transform="translate(212.90,17.90) rotate(0.03)" font-size="12.7" fill="#14161c" textLength="34.7" lengthAdjust="spacingAndGlyphs">Month</text>
<text transform="translate(252.50,17.90) rotate(0.03)" font-size="12.7" fill="#14161c" textLength="41.8" lengthAdjust="spacingAndGlyphs">Futures</text>
<text transform="translate(305.30,17.90) rotate(0.03)" font-size="12.7" fill="#14161c" textLength="14.9" lengthAdjust="spacingAndGlyphs">1Д</text>
<text transform="translate(329.80,17.90) rotate(0.03)" font-size="12.7" fill="#14161c" textLength="38.2" lengthAdjust="spacingAndGlyphs">NYMEX</text>
<rect x="298.2" y="12.7" width="2.2" height="2.1" fill="#14161c"/><rect x="324.1" y="12.7" width="2.2" height="2.1" fill="#14161c"/>
<path d="M386.8 6.5 H396 V19.9 H386.8 A6.7 6.7 0 0 1 386.8 6.5z" fill="#ededed"/>
<path d="M396 6.5 H405.4 A6.7 6.7 0 0 1 405.4 19.9 H396z" fill="#ffe0b2"/>
<rect x="385.2" y="11.9" width="7.9" height="2.8" rx="1.4" fill="#9e9e9e"/>
<text transform="translate(403.10,16.80) rotate(0.03)" font-size="10" fill="#f57c00" text-anchor="middle" font-weight="700" textLength="6.3" lengthAdjust="spacingAndGlyphs">D</text>
<text transform="translate(424.50,17.10) rotate(0.03)" font-size="9.8" fill="#2962ff" textLength="31.2" lengthAdjust="spacingAndGlyphs">34,405</text>
<text transform="translate(460.80,17.10) rotate(0.03)" font-size="9.8" fill="#2962ff" textLength="30.5" lengthAdjust="spacingAndGlyphs">+0,125</text>
<text transform="translate(495.30,17.10) rotate(0.03)" font-size="9.8" fill="#2962ff" textLength="38.8" lengthAdjust="spacingAndGlyphs">(+0,36%)</text>
<rect x="6.7" y="26.5" width="57.7" height="25.8" rx="4.2" fill="#fff" stroke="#f23645" stroke-width="1"/>
<text transform="translate(35.65,37.00) rotate(0.03)" font-size="9.6" fill="#f23645" text-anchor="middle" font-weight="700" textLength="31.8" lengthAdjust="spacingAndGlyphs">32,750</text>
<text transform="translate(35.60,48.20) rotate(0.03)" font-size="8.7" fill="#f23645" text-anchor="middle" textLength="40.0" lengthAdjust="spacingAndGlyphs">ПРОДАТЬ</text>
<text transform="translate(80.95,43.00) rotate(0.03)" font-size="8.4" fill="#14161c" text-anchor="middle" textLength="20.2" lengthAdjust="spacingAndGlyphs">2,150</text>
<rect x="97.4" y="26.5" width="51.8" height="25.8" rx="4.2" fill="#fff" stroke="#2962ff" stroke-width="1"/>
<text transform="translate(123.40,37.00) rotate(0.03)" font-size="9.6" fill="#2962ff" text-anchor="middle" font-weight="700" textLength="32.1" lengthAdjust="spacingAndGlyphs">34,900</text>
<text transform="translate(123.65,48.20) rotate(0.03)" font-size="8.7" fill="#2962ff" text-anchor="middle" textLength="34.5" lengthAdjust="spacingAndGlyphs">КУПИТЬ</text>
<text transform="translate(7.50,70.00) rotate(0.03)" font-size="9.9" fill="#14161c" textLength="31.6" lengthAdjust="spacingAndGlyphs">Объём</text>
<text transform="translate(45.50,70.00) rotate(0.03)" font-size="9.7" fill="#26a69a" textLength="28.6" lengthAdjust="spacingAndGlyphs">7,53 K</text>
<rect x="5.9" y="78.8" width="21" height="15" rx="2.5" fill="#fff" stroke="#d6d9e0" stroke-width="1"/>
<path d="M13.4 88.2 L16.5 85.1 L19.6 88.2" fill="none" stroke="#14161c" stroke-width="1.1"/>
</svg></body></html>
